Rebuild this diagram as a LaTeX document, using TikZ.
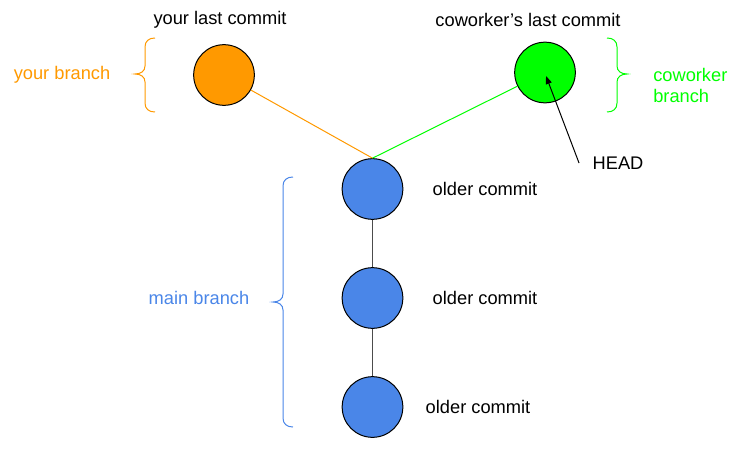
\documentclass[tikz,border=0pt]{standalone}
\usepackage{fontspec}
\setmainfont{Liberation Sans}
\usetikzlibrary{arrows.meta}
\definecolor{corange}{HTML}{FF9900}
\definecolor{cgreen}{HTML}{00FF00}
\definecolor{cblue}{HTML}{4A86E8}
\tikzset{
  commit/.style={circle, draw=black, line width=0.75pt, minimum size=45.5pt, inner sep=0pt},
  lbl/.style={font=\fontsize{13.7}{15.8}\selectfont, inner sep=0pt},
  brace/.style={line width=0.75pt},
  link/.style={line width=0.75pt},
}
\begin{document}
\begin{tikzpicture}[x=0.75pt,y=-0.75pt]
\useasboundingbox (0,0) rectangle (752,460);
% commits
\node[commit, fill=corange] (o) at (224,75) {};
\node[commit, fill=cgreen] (g) at (545,72.5) {};
\node[commit, fill=cblue] (b1) at (372.5,189) {};
\node[commit, fill=cblue] (b2) at (372.5,298) {};
\node[commit, fill=cblue] (b3) at (372.5,407) {};
% links
\draw[link, corange] (o) -- (b1.north);
\draw[link, cgreen] (g) -- (b1.north);
\draw[link, black!70] (b1) -- (b2);
\draw[link, black!70] (b2) -- (b3);
% texts
\node[lbl] (t1) at (220,20) {your last commit};
\node[lbl] (t2) at (528,20) {coworker’s last commit};
\node[lbl, text=corange] (t3) at (62,75) {your branch};
\node[lbl, text=cgreen, align=left, anchor=west] (t4) at (653,85.5) {coworker\\branch};
\node[lbl] (c1) at (485,189) {older commit};
\node[lbl] (c2) at (485,298) {older commit};
\node[lbl] (c3) at (478,407) {older commit};
\node[lbl, text=cblue] (t5) at (199,298) {main branch};
\node[lbl] (head) at (618,163) {HEAD};
% head arrow
\coordinate (ht) at (546,76);
\draw[line width=0.75pt, -{Triangle[length=6pt,width=4.5pt]}] ([xshift=-10pt]head.west) -- (ht);
% braces
\draw[brace, corange] (155,38) .. controls (149,38) and (145,41) .. (145,47) -- (145,66)
  .. controls (145,71) and (141,74) .. (135,74) .. controls (141,74) and (145,77) .. (145,82)
  -- (145,103) .. controls (145,109) and (149,112) .. (155,112);
\draw[brace, cgreen] (607,38) .. controls (613,38) and (617,41) .. (617,47) -- (617,66)
  .. controls (617,71) and (621,74) .. (627,74) .. controls (621,74) and (617,77) .. (617,82)
  -- (617,103) .. controls (617,109) and (613,112) .. (607,112);
\draw[brace, cblue] (293,177) .. controls (287,177) and (283,180) .. (283,186) -- (283,294)
  .. controls (283,299) and (279,302) .. (273,302) .. controls (279,302) and (283,305) .. (283,310)
  -- (283,418) .. controls (283,424) and (287,427) .. (293,427);
\end{tikzpicture}
\end{document}
